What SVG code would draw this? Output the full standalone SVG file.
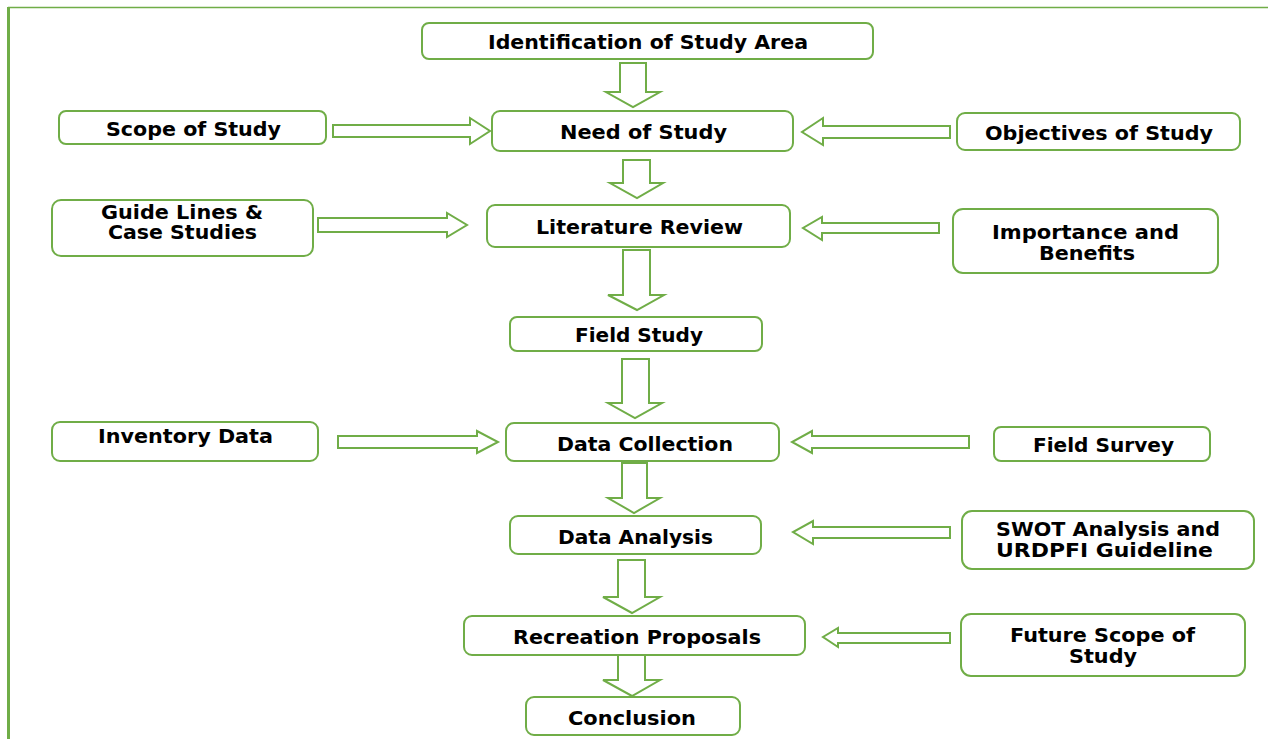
<svg xmlns="http://www.w3.org/2000/svg" width="1268" height="739" viewBox="0 0 1268 739">
<style>
.box{fill:#fff;stroke:#70AD47;stroke-width:2}
.arr{fill:#fff;stroke:#70AD47;stroke-width:2;stroke-linejoin:miter}
.t{font-family:"DejaVu Sans",sans-serif;font-weight:bold;font-size:19px;fill:#000;text-anchor:middle}
.frame{stroke:#70AD47;fill:none}
</style>
<rect width="1268" height="739" fill="#fff"/>
<g id="frame">
<line class="frame" x1="8" y1="7.5" x2="1268" y2="7.5" stroke-width="1.5"/>
<line class="frame" x1="8.5" y1="7" x2="8.5" y2="739" stroke-width="3"/>
</g>
<g id="connectors">
<path class="arr" d="M620,63 H646 V92 H660 L633,107 L606,92 H620 Z"/>
<path class="arr" d="M623,160 H650 V183 H663 L637,198 L610,183 H623 Z"/>
<path class="arr" d="M623,250 H650 V295 H664 L637,310 L608,295 H623 Z"/>
<path class="arr" d="M622,359 H649 V403 H662 L635,418 L608,403 H622 Z"/>
<path class="arr" d="M622,463 H647 V498 H660 L634,513 L608,498 H622 Z"/>
<path class="arr" d="M618,560 H645 V597 H660 L632,613 L603,597 H618 Z"/>
<path class="arr" d="M618,655 H645 V680 H660 L632,696 L603,680 H618 Z"/>
<path class="arr" d="M333,125 H470 V118 L490,131 L470,144 V137 H333 Z"/>
<path class="arr" d="M950,126 H823 V118 L802,132 L823,145 V138 H950 Z"/>
<path class="arr" d="M318,218 H447 V213 L467,225 L447,237 V232 H318 Z"/>
<path class="arr" d="M939,223 H822 V217 L803,228 L822,240 V233 H939 Z"/>
<path class="arr" d="M338,436 H477 V431 L498,442 L477,453 V448 H338 Z"/>
<path class="arr" d="M969,436 H812 V431 L792,442 L812,453 V448 H969 Z"/>
<path class="arr" d="M950,527 H813 V521 L793,532 L813,544 V538 H950 Z"/>
<path class="arr" d="M950,633 H838 V628 L823,637 L838,647 V643 H950 Z"/>
</g>
<g id="n-identification"><rect class="box" x="422" y="23" width="451" height="36" rx="7"/><text class="t" x="648" y="49" textLength="320" lengthAdjust="spacingAndGlyphs">Identification of Study Area</text></g>
<g id="n-need"><rect class="box" x="492" y="111" width="301" height="40" rx="8"/><text class="t" x="643.5" y="139" textLength="167" lengthAdjust="spacingAndGlyphs">Need of Study</text></g>
<g id="n-scope"><rect class="box" x="59" y="111" width="267" height="33" rx="7"/><text class="t" x="193.5" y="136" textLength="175" lengthAdjust="spacingAndGlyphs">Scope of Study</text></g>
<g id="n-objectives"><rect class="box" x="957" y="113" width="283" height="37" rx="8"/><text class="t" x="1099" y="140" textLength="228" lengthAdjust="spacingAndGlyphs">Objectives of Study</text></g>
<g id="n-guide"><rect class="box" x="52" y="200" width="261" height="56" rx="9"/><text class="t" x="182" y="219" textLength="162" lengthAdjust="spacingAndGlyphs">Guide Lines &amp;</text><text class="t" x="182.5" y="239" textLength="149" lengthAdjust="spacingAndGlyphs">Case Studies</text></g>
<g id="n-literature"><rect class="box" x="487" y="205" width="303" height="42" rx="8"/><text class="t" x="639.5" y="234" textLength="207" lengthAdjust="spacingAndGlyphs">Literature Review</text></g>
<g id="n-importance"><rect class="box" x="953" y="209" width="265" height="64" rx="10"/><text class="t" x="1085.5" y="239" textLength="187" lengthAdjust="spacingAndGlyphs">Importance and</text><text class="t" x="1087" y="260" textLength="96" lengthAdjust="spacingAndGlyphs">Benefits</text></g>
<g id="n-field-study"><rect class="box" x="510" y="317" width="252" height="34" rx="7"/><text class="t" x="639" y="342" textLength="128" lengthAdjust="spacingAndGlyphs">Field Study</text></g>
<g id="n-inventory"><rect class="box" x="52" y="422" width="266" height="39" rx="8"/><text class="t" x="185.5" y="443" textLength="175" lengthAdjust="spacingAndGlyphs">Inventory Data</text></g>
<g id="n-data-collection"><rect class="box" x="506" y="423" width="273" height="38" rx="8"/><text class="t" x="645" y="451" textLength="176" lengthAdjust="spacingAndGlyphs">Data Collection</text></g>
<g id="n-field-survey"><rect class="box" x="994" y="427" width="216" height="34" rx="7"/><text class="t" x="1103.5" y="452" textLength="141" lengthAdjust="spacingAndGlyphs">Field Survey</text></g>
<g id="n-data-analysis"><rect class="box" x="510" y="516" width="251" height="38" rx="8"/><text class="t" x="635.5" y="544" textLength="155" lengthAdjust="spacingAndGlyphs">Data Analysis</text></g>
<g id="n-swot"><rect class="box" x="962" y="511" width="292" height="58" rx="10"/><text class="t" x="1108" y="536" textLength="224" lengthAdjust="spacingAndGlyphs">SWOT Analysis and</text><text class="t" x="1104.5" y="557" textLength="217" lengthAdjust="spacingAndGlyphs">URDPFI Guideline</text></g>
<g id="n-recreation"><rect class="box" x="464" y="616" width="341" height="39" rx="8"/><text class="t" x="637" y="644" textLength="248" lengthAdjust="spacingAndGlyphs">Recreation Proposals</text></g>
<g id="n-future"><rect class="box" x="961" y="614" width="284" height="62" rx="10"/><text class="t" x="1102.5" y="642" textLength="185" lengthAdjust="spacingAndGlyphs">Future Scope of</text><text class="t" x="1103" y="663" textLength="68" lengthAdjust="spacingAndGlyphs">Study</text></g>
<g id="n-conclusion"><rect class="box" x="526" y="697" width="214" height="38" rx="8"/><text class="t" x="632" y="725" textLength="128" lengthAdjust="spacingAndGlyphs">Conclusion</text></g>
</svg>
